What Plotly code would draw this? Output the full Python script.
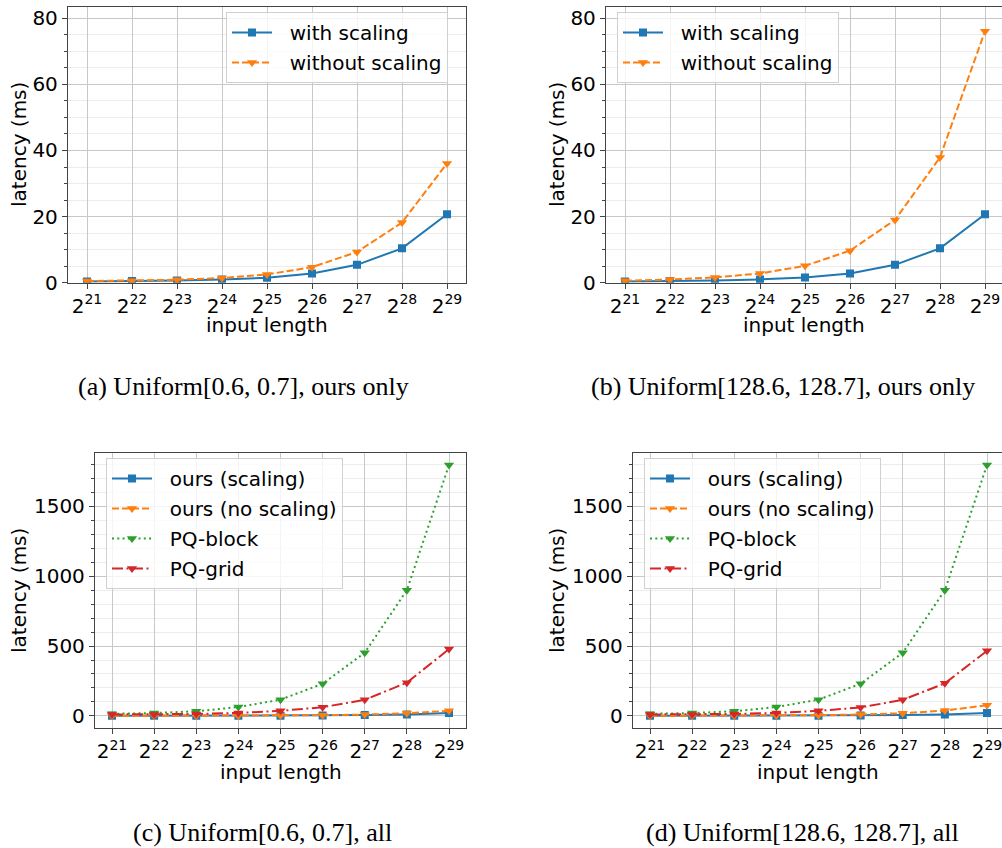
import plotly.graph_objects as go

# ---------------- data ----------------
exponents = [21, 22, 23, 24, 25, 26, 27, 28, 29]
tick_labels = [f"2<sup>{e}</sup>" for e in exponents]

a_with_scaling = [0.4, 0.5, 0.7, 1.0, 1.5, 2.8, 5.4, 10.4, 20.7]
a_without_scaling = [0.5, 0.6, 0.9, 1.4, 2.5, 4.7, 9.3, 18.2, 36.1]

b_with_scaling = [0.4, 0.5, 0.7, 1.0, 1.6, 2.8, 5.4, 10.4, 20.7]
b_without_scaling = [0.6, 0.95, 1.6, 2.8, 5.1, 9.7, 19.0, 37.9, 76.1]

c_pq_block = [15, 20, 33, 63, 116, 230, 452, 900, 1796]
c_pq_grid = [10, 10, 14, 21, 36, 62, 115, 238, 478]

d_pq_block = [15, 20, 33, 63, 116, 230, 452, 900, 1796]
d_pq_grid = [10, 10, 14, 21, 36, 60, 115, 233, 466]

captions = [
    "(a) Uniform[0.6, 0.7], ours only",
    "(b) Uniform[128.6, 128.7], ours only",
    "(c) Uniform[0.6, 0.7], all",
    "(d) Uniform[128.6, 128.7], all",
]

# ---------------- style ----------------
W, H = 1002, 848
BLUE, ORANGE, GREEN, RED = "#1f77b4", "#ff7f0e", "#2ca02c", "#d62728"
FONT = "DejaVu Sans"
AXC = "#444444"
GRID = "#c8c8c8"
MINOR = "#ececec"
PAD = "\u00a0\u00a0"

def px_x(p):
    return p / W

def px_y(p):
    return 1 - p / H

# panel geometry in pixels: (left, right, top, bottom, x21, x29)
panels = [
    (68, 466, 6.7, 282.7, 87, 447),
    (606, 1002, 6.7, 282.7, 625, 985),
    (95, 466, 453.3, 728.3, 112, 449),
    (633, 1002, 453.3, 728.3, 650, 987),
]

fig = go.Figure()

def add(i, y, name, color, dash, symbol, size):
    sfx = "" if i == 0 else str(i + 1)
    fig.add_trace(go.Scatter(
        x=exponents, y=y, name=PAD + name, mode="lines+markers",
        line=dict(color=color, width=2, dash=dash),
        marker=dict(symbol=symbol, size=size, color=color),
        xaxis="x" + sfx, yaxis="y" + sfx,
        legend="legend" + sfx, legendgroup=f"{i}-{name}",
    ))

DASH = "7px,3px"
DOT = "2px,3.3px"
DASHDOT = "11px,3.5px,2px,3.5px"

add(0, a_with_scaling, "with scaling", BLUE, "solid", "square", 8)
add(0, a_without_scaling, "without scaling", ORANGE, DASH, "triangle-down", 9)
add(1, b_with_scaling, "with scaling", BLUE, "solid", "square", 8)
add(1, b_without_scaling, "without scaling", ORANGE, DASH, "triangle-down", 9)

add(2, a_with_scaling, "ours (scaling)", BLUE, "solid", "square", 8)
add(2, a_without_scaling, "ours (no scaling)", ORANGE, DASH, "triangle-down", 9)
add(2, c_pq_block, "PQ-block", GREEN, DOT, "triangle-down", 9)
add(2, c_pq_grid, "PQ-grid", RED, DASHDOT, "triangle-down", 9)

add(3, b_with_scaling, "ours (scaling)", BLUE, "solid", "square", 8)
add(3, b_without_scaling, "ours (no scaling)", ORANGE, DASH, "triangle-down", 9)
add(3, d_pq_block, "PQ-block", GREEN, DOT, "triangle-down", 9)
add(3, d_pq_grid, "PQ-grid", RED, DASHDOT, "triangle-down", 9)

layout = dict(
    width=W, height=H, margin=dict(l=0, r=0, t=0, b=0, autoexpand=False),
    paper_bgcolor="white", plot_bgcolor="white",
    font=dict(family=FONT, size=20, color="black"),
    showlegend=True,
)

yranges = [(0, 83.5), (0, 83.5), (-89, 1880), (-89, 1880)]
ytickvals = [[0, 20, 40, 60, 80]] * 2 + [[0, 500, 1000, 1500]] * 2
yminor = [5, 5, 100, 100]

for i, (l, r, t, b, x21, x29) in enumerate(panels):
    sfx = "" if i == 0 else str(i + 1)
    step = (x29 - x21) / 8
    x0 = 21 - (x21 - l) / step
    x1 = 29 + (r - x29) / step
    layout["xaxis" + sfx] = dict(
        domain=[px_x(l), px_x(r)], range=[x0, x1], anchor="y" + sfx,
        tickvals=exponents, ticktext=tick_labels, automargin=False,
        ticklabeloverflow="allow",
        showgrid=True, gridcolor=GRID, gridwidth=1.2,
        showline=True, linecolor=AXC, linewidth=1.3, mirror=True,
        ticks="outside", ticklen=5, tickcolor=AXC,
        tickfont=dict(family=FONT, size=20), zeroline=False,
    )
    layout["yaxis" + sfx] = dict(
        domain=[px_y(b), px_y(t)], range=list(yranges[i]), anchor="x" + sfx,
        tickvals=ytickvals[i], automargin=False,
        showgrid=True, gridcolor=GRID, gridwidth=1.2,
        showline=True, linecolor=AXC, linewidth=1.3, mirror=True,
        ticks="outside", ticklen=5, tickcolor=AXC,
        tickfont=dict(family=FONT, size=20), zeroline=False,
        minor=dict(dtick=yminor[i], tick0=0, showgrid=True, gridcolor=MINOR,
                   gridwidth=1, ticks="outside", ticklen=3, tickcolor=AXC),
    )

legend_pos = [(226, 12), (617, 12), (106, 458), (644, 458)]
for i, (lx, ty) in enumerate(legend_pos):
    sfx = "" if i == 0 else str(i + 1)
    layout["legend" + sfx] = dict(
        x=px_x(lx), y=px_y(ty), xanchor="left", yanchor="top",
        xref="paper", yref="paper",
        bgcolor="rgba(255,255,255,0.8)", bordercolor="#d0d0d0", borderwidth=1,
        font=dict(family=FONT, size=20), itemwidth=40,
        tracegroupgap=1, traceorder="grouped",
    )

fig.update_layout(**layout)

annotations = []
# axis titles
ylab_pos = [(19, 145), (557, 145), (19, 591), (557, 591)]
xlab_pos = [(267, 325), (804, 325), (280.5, 772), (817.5, 772)]
for (x, y) in ylab_pos:
    annotations.append(dict(text="latency (ms)", x=px_x(x), y=px_y(y), xref="paper", yref="paper",
                            showarrow=False, textangle=-90, xanchor="center", yanchor="middle",
                            font=dict(family=FONT, size=20)))
for (x, y) in xlab_pos:
    annotations.append(dict(text="input length", x=px_x(x), y=px_y(y), xref="paper", yref="paper",
                            showarrow=False, xanchor="center", yanchor="middle",
                            font=dict(family=FONT, size=20)))
cap_pos = [(243, 386), (783, 386), (262, 832), (802, 832)]
for txt, (x, y) in zip(captions, cap_pos):
    annotations.append(dict(text=txt, x=px_x(x), y=px_y(y), xref="paper", yref="paper",
                            showarrow=False, xanchor="center", yanchor="middle",
                            font=dict(family="Liberation Serif", size=26)))
fig.update_layout(annotations=annotations)

fig.write_html("out.html")
